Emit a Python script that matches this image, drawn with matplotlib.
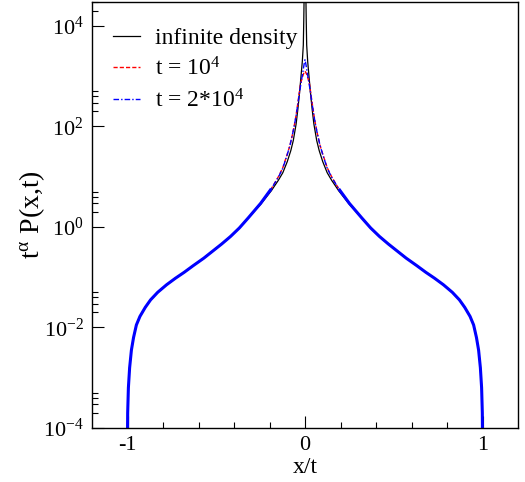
import numpy as np
import matplotlib
matplotlib.use("Agg")
import matplotlib.pyplot as plt
from matplotlib.ticker import FixedLocator, FixedFormatter

plt.rcParams['font.family'] = ['Liberation Serif', 'DejaVu Serif']
plt.rcParams['mathtext.fontset'] = 'custom'
plt.rcParams['mathtext.rm'] = 'Liberation Serif'
plt.rcParams['mathtext.it'] = 'Liberation Serif:italic'
plt.rcParams['mathtext.bf'] = 'Liberation Serif:bold'
plt.rcParams['axes.unicode_minus'] = False

# ---- data (x/t, log10 of t^alpha P(x,t)) ----
x_tail_left = [-1.0, -0.999, -0.995, -0.988, -0.978, -0.966, -0.95, -0.93, -0.9, -0.87,
               -0.83, -0.78, -0.73, -0.68, -0.63, -0.57, -0.52, -0.47, -0.42, -0.37, -0.32]
logp_tail_left = [-4.2, -3.7, -3.2, -2.8, -2.45, -2.2, -1.95, -1.78, -1.6, -1.45,
                  -1.3, -1.15, -1.02, -0.9, -0.77, -0.62, -0.48, -0.34, -0.19, -0.02, 0.18]
x_tail_right = [0.32, 0.37, 0.42, 0.47, 0.52, 0.57, 0.63, 0.68, 0.73, 0.78,
                0.83, 0.87, 0.9, 0.93, 0.95, 0.966, 0.978, 0.988, 0.995, 0.999, 1.0]
logp_tail_right = [0.18, -0.02, -0.19, -0.34, -0.48, -0.62, -0.77, -0.9, -1.02, -1.15,
                   -1.3, -1.45, -1.6, -1.78, -1.95, -2.2, -2.45, -2.8, -3.2, -3.7, -4.2]

x_center_inf = [-0.25, -0.19, -0.15, -0.125, -0.1, -0.08, -0.066, -0.05, -0.04, -0.03,
                -0.0225, -0.015, -0.0095, -0.007, -0.004, 0.004, 0.007, 0.0095, 0.015,
                0.0225, 0.03, 0.04, 0.05, 0.066, 0.08, 0.1, 0.125, 0.15, 0.19, 0.25]
logp_center_inf = [0.45, 0.72, 0.93, 1.08, 1.3, 1.52, 1.72, 2.05, 2.35, 2.7,
                   3.0, 3.3, 3.62, 4.1, 4.8, 4.8, 4.1, 3.62, 3.3,
                   3.0, 2.7, 2.35, 2.05, 1.72, 1.52, 1.3, 1.08, 0.93, 0.72, 0.45]

x_center_t1 = [-0.25, -0.19, -0.15, -0.125, -0.1, -0.085, -0.07, -0.055, -0.045, -0.035,
               -0.025, -0.015, -0.008, 0.0, 0.008, 0.015, 0.025, 0.035, 0.045, 0.055,
               0.07, 0.085, 0.1, 0.125, 0.15, 0.19, 0.25]
logp_center_t1 = [0.47, 0.76, 1.0, 1.18, 1.45, 1.62, 1.85, 2.12, 2.35, 2.6,
                  2.85, 2.98, 3.05, 3.10, 3.05, 2.98, 2.85, 2.6, 2.35, 2.12,
                  1.85, 1.62, 1.45, 1.18, 1.0, 0.76, 0.47]

x_center_t2 = [-0.25, -0.19, -0.15, -0.125, -0.1, -0.085, -0.07, -0.06, -0.05, -0.04,
               -0.03, -0.02, -0.012, -0.006, 0.0, 0.006, 0.012, 0.02, 0.03, 0.04,
               0.05, 0.06, 0.07, 0.085, 0.1, 0.125, 0.15, 0.19, 0.25]
logp_center_t2 = [0.47, 0.76, 0.99, 1.17, 1.44, 1.62, 1.85, 2.02, 2.22, 2.45,
                  2.7, 2.92, 3.08, 3.22, 3.33, 3.22, 3.08, 2.92, 2.7, 2.45,
                  2.22, 2.02, 1.85, 1.62, 1.44, 1.17, 0.99, 0.76, 0.47]

labels = ['infinite density', r't = 10$^{4}$', r't = 2*10$^{4}$']

def series(xc, lc):
    x = np.array(x_tail_left + xc + x_tail_right)
    y = 10.0 ** np.array(logp_tail_left + lc + logp_tail_right)
    return x, y

x0, y0 = series(x_center_inf, logp_center_inf)
x1, y1 = series(x_center_t1, logp_center_t1)
x2, y2 = series(x_center_t2, logp_center_t2)

fig = plt.figure(figsize=(5.25, 4.82), dpi=100)
ax = fig.add_axes([92/525, 1-428/482, 426/525, 426/482])

ax.plot(x0, y0, color='black', lw=0.9, label=labels[0])
ax.plot(x1, y1, color='red', lw=1.0, ls=(0, (3, 1.5)), label=labels[1])
ax.plot(x2, y2, color='blue', lw=1.0, ls=(0, (4, 1.5, 1, 1.5)), label=labels[2])
# noisy band of the simulated data in the tails
mask = np.abs(x2) >= 0.19
xl = np.where(mask & (x2 < 0), x2, np.nan)
xr = np.where(mask & (x2 > 0), x2, np.nan)
ax.plot(xl, y2, color='blue', lw=2.2, solid_capstyle='butt')
ax.plot(xr, y2, color='blue', lw=2.2, solid_capstyle='butt')

ax.set_yscale('log')
ax.set_xlim(-1.2, 1.2)
ax.set_ylim(1e-4, 3e4)

ymaj = [1e-4, 1e-2, 1e0, 1e2, 1e4]
ymaj_labels = [r'10$^{-4}$', r'10$^{-2}$', r'10$^{0}$', r'10$^{2}$', r'10$^{4}$']
ymin = [m * k for m in ymaj for k in (2, 3, 4, 5)]
ax.yaxis.set_major_locator(FixedLocator(ymaj))
ax.yaxis.set_major_formatter(FixedFormatter(ymaj_labels))
ax.yaxis.set_minor_locator(FixedLocator(ymin))
ax.yaxis.set_minor_formatter(FixedFormatter([]))

xmaj = [-1, 0, 1]
ax.xaxis.set_major_locator(FixedLocator(xmaj))
ax.xaxis.set_major_formatter(FixedFormatter(['-1', '0', '1']))
ax.xaxis.set_minor_locator(FixedLocator([-0.8, -0.6, -0.4, -0.2, 0.2, 0.4, 0.6, 0.8]))

ax.tick_params(which='both', direction='in', top=False, right=False, labelsize=16, width=0.8)
ax.tick_params(which='major', length=8.5, pad=6)
ax.tick_params(which='minor', length=4.2)
for s in ax.spines.values():
    s.set_linewidth(1.0)

ax.set_xlabel('x/t', fontsize=17, labelpad=1)
ax.set_ylabel(r't$^{\mathrm{\alpha}}$ P(x,t)', fontsize=20, labelpad=-3)

leg = ax.legend(loc='upper left', bbox_to_anchor=(0.05, 0.94), frameon=False, fontsize=17,
                handlelength=1.15, handletextpad=0.6, labelspacing=0.35, borderpad=0,
                borderaxespad=0)

fig.savefig('out.png', dpi=100)
